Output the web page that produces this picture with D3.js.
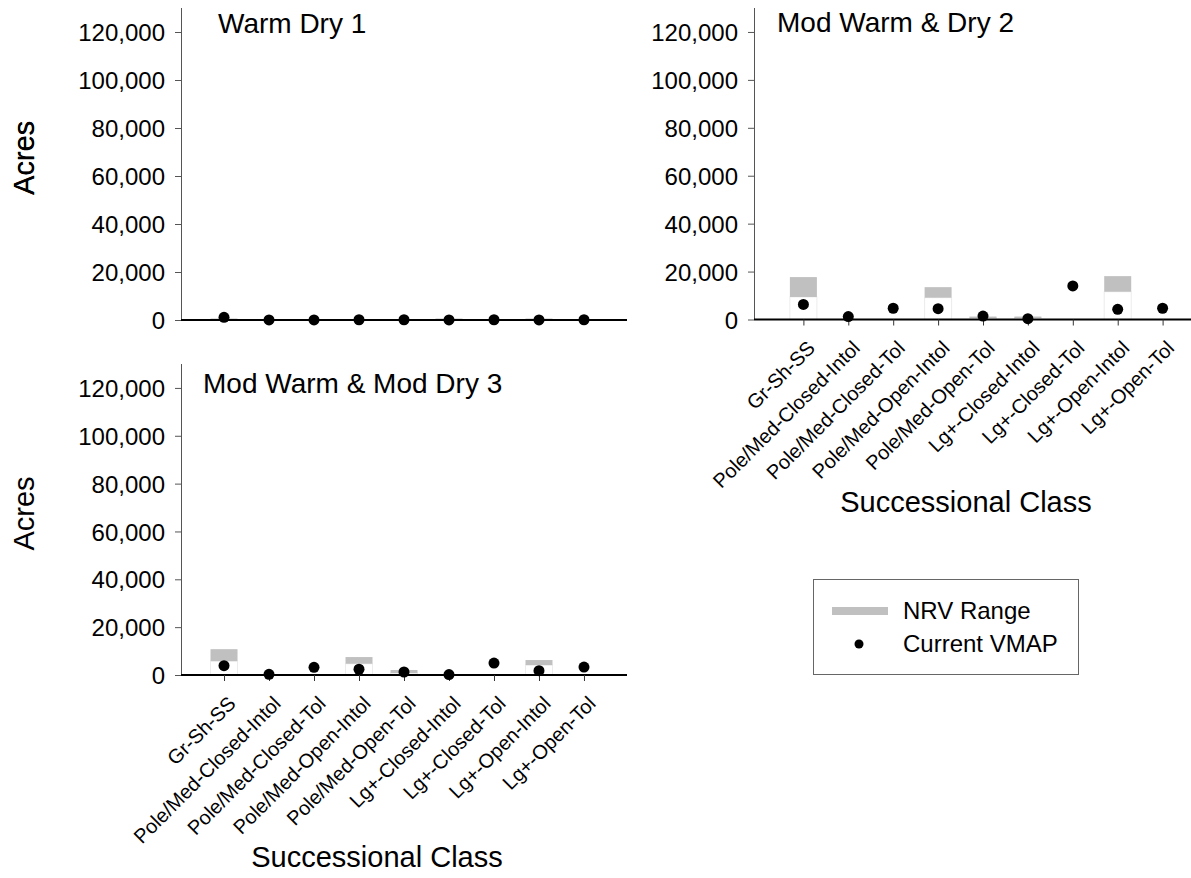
<!DOCTYPE html>
<html>
<head>
<meta charset="utf-8">
<script src="https://cdn.jsdelivr.net/npm/d3@7"></script>
<style>
  body { margin: 0; background: #fff; }
  text { font-family: "Liberation Sans", Arial, sans-serif; fill: #000; }
</style>
</head>
<body>
<div class="chart"></div>
<script>
// categories + values (acres)
var categories = ["Gr-Sh-SS", "Pole/Med-Closed-Intol", "Pole/Med-Closed-Tol", "Pole/Med-Open-Intol",
  "Pole/Med-Open-Tol", "Lg+-Closed-Intol", "Lg+-Closed-Tol", "Lg+-Open-Intol", "Lg+-Open-Tol"];
var yTicks = [0, 20000, 40000, 60000, 80000, 100000, 120000];
var panelTitles = ["Warm Dry 1", "Mod Warm & Dry 2", "Mod Warm & Mod Dry 3"];

// panel 1 - Warm Dry 1
var warmDryLow  = [0, 0, 0, 0, 0, 0, 0, 0, 0];
var warmDryHigh = [300, 0, 0, 0, 0, 300, 0, 300, 0];
var warmDryVmap = [1100, 50, 50, 100, 100, 50, 100, 50, 100];

// panel 2 - Mod Warm & Dry 2
var modWarmDryLow  = [9400, 0, 0, 9100, 600, 600, 0, 11600, 0];
var modWarmDryHigh = [17700, 0, 0, 13500, 1100, 1100, 0, 18100, 0];
var modWarmDryVmap = [6300, 1200, 4700, 4500, 1450, 350, 14000, 4250, 4700];

// panel 3 - Mod Warm & Mod Dry 3
var modWarmModDryLow  = [5800, 0, 0, 4700, 800, 0, 0, 4150, 0];
var modWarmModDryHigh = [10800, 0, 0, 7500, 2100, 0, 0, 6250, 0];
var modWarmModDryVmap = [3900, 300, 3200, 2400, 1250, 200, 5000, 1800, 3300];

var legendLabels = ["NRV Range", "Current VMAP"];

var width = 1191, height = 878;
var grey = "#c0c0c0";

var svg = d3.select(".chart")
  .append("svg")
  .attr("width", width)
  .attr("height", height);

var panels = [
  {title: panelTitles[0], low: warmDryLow, high: warmDryHigh, vmap: warmDryVmap,
   left: 181, right: 627, top: 8, bottom: 320, pad: 0.956, labels: false,
   titleX: 218, titleY: 33, axisTitleX: null},
  {title: panelTitles[1], low: modWarmDryLow, high: modWarmDryHigh, vmap: modWarmDryVmap,
   left: 754, right: 1212, top: 8, bottom: 319.5, pad: 1.1, labels: true,
   titleX: 777, titleY: 32, axisTitleX: 966},
  {title: panelTitles[2], low: modWarmModDryLow, high: modWarmModDryHigh, vmap: modWarmModDryVmap,
   left: 181, right: 627, top: 364, bottom: 675, pad: 0.956, labels: true,
   titleX: 203, titleY: 393, axisTitleX: 377}
];

panels.forEach(function(p, i) {
  var x = d3.scalePoint()
    .domain(categories)
    .range([p.left, p.right])
    .padding(p.pad);
  var y = d3.scaleLinear()
    .domain([0, 130000])
    .range([p.bottom, p.top]);

  var g = svg.append("g");

  // y axis
  var yAxis = g.append("g")
    .attr("transform", "translate(" + p.left + ",0)")
    .call(d3.axisLeft(y).tickValues(yTicks).tickFormat(d3.format(",")).tickSize(6).tickPadding(10).tickSizeOuter(0));
  yAxis.select(".domain").attr("stroke", "#555").attr("d", "M0.5," + p.top + "V" + p.bottom);
  yAxis.selectAll(".tick line").attr("stroke", "#555");
  yAxis.selectAll(".tick text").style("font-size", "24px").attr("dy", "0.36em");

  // "Acres"
  g.append("text")
    .attr("transform", "translate(34," + ((p.top + p.bottom) / 2 - 6) + ") rotate(-90)")
    .attr("text-anchor", "middle")
    .style("font-size", "29px")
    .text("Acres");

  // NRV range bars (invisible lower segment + grey range)
  var bw = 27;
  categories.forEach(function(c, j) {
    if (p.high[j] <= 0) return;
    if (p.low[j] > 0) {
      g.append("rect")
        .attr("x", x(c) - bw / 2).attr("width", bw)
        .attr("y", y(p.low[j])).attr("height", y(0) - y(p.low[j]))
        .attr("fill", "#fff").attr("stroke", "#ececec").attr("stroke-width", 1);
    }
    var h = Math.max(y(p.low[j]) - y(p.high[j]), 1.5);
    g.append("rect")
      .attr("x", x(c) - bw / 2).attr("width", bw)
      .attr("y", y(p.low[j]) - h).attr("height", h)
      .attr("fill", grey);
  });

  // x axis
  var xAxis = g.append("g")
    .attr("transform", "translate(0," + p.bottom + ")")
    .call(d3.axisBottom(x).tickSize(p.labels ? 6 : 0).tickSizeOuter(0).tickFormat(""));
  xAxis.select(".domain").attr("stroke", "#000").attr("stroke-width", 2)
    .attr("d", "M" + p.left + ",0H" + p.right);
  xAxis.selectAll(".tick line").attr("stroke", "#333");

  if (p.labels) {
    g.selectAll(".cat")
      .data(categories)
      .enter().append("text")
      .attr("transform", function(d) { return "translate(" + (x(d) + 3) + "," + (p.bottom + 20) + ") rotate(-45)"; })
      .attr("text-anchor", "end")
      .attr("dy", "0.7em")
      .style("font-size", "20px")
      .text(function(d) { return d; });

    g.append("text")
      .attr("x", p.axisTitleX)
      .attr("y", p.bottom + 192)
      .attr("text-anchor", "middle")
      .style("font-size", "29px")
      .text("Successional Class");
  }

  // current VMAP dots
  g.selectAll(".dot")
    .data(p.vmap)
    .enter().append("circle")
    .attr("cx", function(d, j) { return x(categories[j]); })
    .attr("cy", function(d) { return y(d); })
    .attr("r", 5.5)
    .attr("fill", "#000");

  // panel title
  g.append("text")
    .attr("x", p.titleX)
    .attr("y", p.titleY)
    .style("font-size", "28px")
    .text(p.title);
});

// legend
var lg = svg.append("g").attr("transform", "translate(813,579)");
lg.append("rect").attr("x", 0.5).attr("y", 0.5).attr("width", 265).attr("height", 95)
  .attr("fill", "#fff").attr("stroke", "#666");
lg.append("line").attr("x1", 19).attr("x2", 75).attr("y1", 32).attr("y2", 32)
  .attr("stroke", grey).attr("stroke-width", 8);
lg.append("circle").attr("cx", 46).attr("cy", 65).attr("r", 4.5).attr("fill", "#000");
lg.append("text").attr("x", 90).attr("y", 40).style("font-size", "24px").text(legendLabels[0]);
lg.append("text").attr("x", 90).attr("y", 73).style("font-size", "24px").text(legendLabels[1]);
</script>
</body>
</html>
